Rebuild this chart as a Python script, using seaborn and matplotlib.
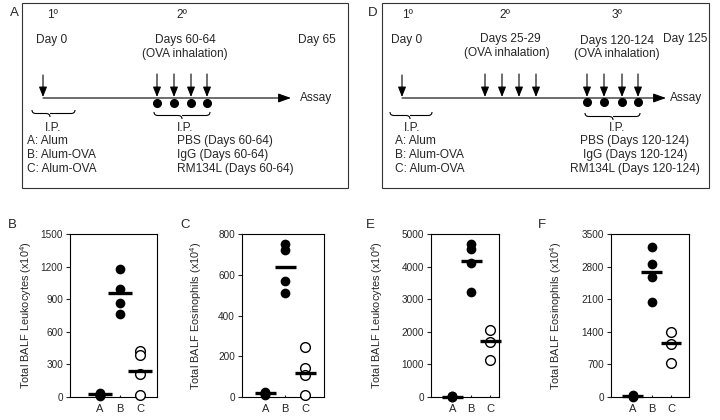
import numpy as np
import pandas as pd
import matplotlib
matplotlib.use("Agg")
import matplotlib.pyplot as plt
import seaborn as sns
from matplotlib.path import Path
from matplotlib.patches import PathPatch, Rectangle

# ---------------- data ----------------
groups = ["A", "B", "C"]

b_A = [8, 15, 22, 37]
b_B = [1177, 992, 862, 761]
b_C = [425, 385, 210, 15]
b_means = [28, 955, 240]

c_A = [10, 15, 20, 25]
c_B = [751, 723, 567, 509]
c_C = [246, 140, 107, 8]
c_means = [20, 636, 118]

e_A = [5, 15, 30, 45]
e_B = [4692, 4538, 4107, 3234]
e_C = [2053, 1694, 1150]
e_means = [5, 4179, 1715]

f_A = [10, 20, 30, 40]
f_B = [3220, 2860, 2587, 2048]
f_C = [1387, 1136, 740]
f_means = [15, 2681, 1150]

b_ticks = [0, 300, 600, 900, 1200, 1500]
c_ticks = [0, 200, 400, 600, 800]
e_ticks = [0, 1000, 2000, 3000, 4000, 5000]
f_ticks = [0, 700, 1400, 2100, 2800, 3500]

# ---------------- style ----------------
sns.set_theme(style="white")
plt.rcParams["font.family"] = ["Liberation Sans", "DejaVu Sans"]
plt.rcParams["mathtext.fontset"] = "custom"
plt.rcParams["mathtext.rm"] = "Liberation Sans"
plt.rcParams["mathtext.it"] = "Liberation Sans:italic"

W, H = 720, 420
fig = plt.figure(figsize=(7.2, 4.2), dpi=100)
fig.patch.set_facecolor("white")

# overlay axis in pixel coordinates for schematics
ov = fig.add_axes([0, 0, 1, 1])
ov.set_xlim(0, W)
ov.set_ylim(H, 0)
ov.axis("off")
ov.set_zorder(-1)

TXT = 8.6
LET = 9.5
LW = 0.8


def brace(ax, x0, x1, y, d, tip=None):
    if tip is None:
        tip = (x0 + x1) / 2
    r = 4
    verts = [(x0, y), (x0, y + d / 2), (x0 + r, y + d / 2),
             (tip - r, y + d / 2), (tip, y + d / 2), (tip, y + d),
             (tip, y + d / 2), (tip + r, y + d / 2),
             (x1 - r, y + d / 2), (x1, y + d / 2), (x1, y)]
    codes = [Path.MOVETO, Path.CURVE3, Path.CURVE3,
             Path.LINETO, Path.CURVE3, Path.CURVE3,
             Path.MOVETO, Path.LINETO,
             Path.LINETO, Path.CURVE3, Path.CURVE3]
    ax.add_patch(PathPatch(Path(verts, codes), fill=False, lw=LW, color="black"))


def down_arrow(ax, x, y0, y1):
    ax.annotate("", xy=(x, y1), xytext=(x, y0),
                arrowprops=dict(arrowstyle="-|>,head_length=0.55,head_width=0.22",
                                color="black", lw=LW, mutation_scale=11,
                                shrinkA=0, shrinkB=0))


def timeline(ax, x0, x1, y):
    ax.annotate("", xy=(x1, y), xytext=(x0, y),
                arrowprops=dict(arrowstyle="-|>,head_length=0.7,head_width=0.25",
                                color="black", lw=LW, mutation_scale=11,
                                shrinkA=0, shrinkB=0))


# ---- panel A schematic ----
ov.add_patch(Rectangle((22, 3), 326, 185, fill=False, lw=LW, ec="#333333"))
ov.text(14, 13, "A", fontsize=LET, ha="center", va="center")
ov.text(52, 15, "1º", fontsize=TXT, ha="center", va="center")
ov.text(182, 15, "2º", fontsize=TXT, ha="center", va="center")
ov.text(52, 40, "Day 0", fontsize=TXT, ha="center", va="center")
ov.text(185, 40, "Days 60-64", fontsize=TXT, ha="center", va="center")
ov.text(185, 54, "(OVA inhalation)", fontsize=TXT, ha="center", va="center")
ov.text(317, 40, "Day 65", fontsize=TXT, ha="center", va="center")
timeline(ov, 43, 291, 98)
ov.text(300, 98, "Assay", fontsize=TXT, ha="left", va="center")
down_arrow(ov, 43, 75, 97)
a_days = [157, 174, 191, 207]
for x in a_days:
    down_arrow(ov, x, 74, 97)
ov.plot(a_days, [103] * 4, "o", ms=5.5, color="black")
brace(ov, 32, 75, 110, 7, tip=50)
brace(ov, 154, 210, 112, 7, tip=182)
ov.text(53, 128, "I.P.", fontsize=TXT, ha="center", va="center")
ov.text(185, 128, "I.P.", fontsize=TXT, ha="center", va="center")
for i, s in enumerate(["A: Alum", "B: Alum-OVA", "C: Alum-OVA"]):
    ov.text(27, 141 + 14 * i, s, fontsize=TXT, ha="left", va="center")
for i, s in enumerate(["PBS (Days 60-64)", "IgG (Days 60-64)", "RM134L (Days 60-64)"]):
    ov.text(177, 141 + 14 * i, s, fontsize=TXT, ha="left", va="center")

# ---- panel D schematic ----
ov.add_patch(Rectangle((382, 3), 327, 185, fill=False, lw=LW, ec="#333333"))
ov.text(373, 13, "D", fontsize=LET, ha="center", va="center")
ov.text(407, 15, "1º", fontsize=TXT, ha="center", va="center")
ov.text(505, 15, "2º", fontsize=TXT, ha="center", va="center")
ov.text(617, 15, "3º", fontsize=TXT, ha="center", va="center")
ov.text(407, 40, "Day 0", fontsize=TXT, ha="center", va="center")
ov.text(510, 39, "Days 25-29", fontsize=TXT, ha="center", va="center")
ov.text(507, 53, "(OVA inhalation)", fontsize=TXT, ha="center", va="center")
ov.text(617, 41, "Days 120-124", fontsize=TXT, ha="center", va="center")
ov.text(617, 54, "(OVA inhalation)", fontsize=TXT, ha="center", va="center")
ov.text(707, 39, "Day 125", fontsize=TXT, ha="right", va="center")
timeline(ov, 402, 666, 98)
ov.text(670, 98, "Assay", fontsize=TXT, ha="left", va="center")
down_arrow(ov, 402, 75, 97)
d2_days = [485, 502, 519, 536]
d3_days = [587, 604, 622, 638]
for x in d2_days + d3_days:
    down_arrow(ov, x, 74, 97)
ov.plot(d3_days, [102] * 4, "o", ms=5.5, color="black")
brace(ov, 390, 432, 112, 7, tip=410)
brace(ov, 585, 640, 113, 7, tip=613)
ov.text(412, 128, "I.P.", fontsize=TXT, ha="center", va="center")
ov.text(617, 128, "I.P.", fontsize=TXT, ha="center", va="center")
for i, s in enumerate(["A: Alum", "B: Alum-OVA", "C: Alum-OVA"]):
    ov.text(395, 141 + 14 * i, s, fontsize=TXT, ha="left", va="center")
for i, s in enumerate(["PBS (Days 120-124)", "IgG (Days 120-124)", "RM134L (Days 120-124)"]):
    ov.text(635, 141 + 14 * i, s, fontsize=TXT, ha="center", va="center")


# ---------------- scatter panels ----------------
def make_df(a, b, c):
    rows = [("A", v, True) for v in a] + [("B", v, True) for v in b] + [("C", v, False) for v in c]
    return pd.DataFrame(rows, columns=["group", "value", "filled"])


panels = [
    ("B", make_df(b_A, b_B, b_C), b_means, b_ticks, "Total BALF Leukocytes (x10$^{4}$)",
     (70, 234, 157, 397), (-1.5, 2.85), 0.6, 12, 34),
    ("C", make_df(c_A, c_B, c_C), c_means, c_ticks, "Total BALF Eosinophils (x10$^{4}$)",
     (242, 234, 324, 397), (-1.17, 2.95), 0.53, 185, 204),
    ("E", make_df(e_A, e_B, e_C), e_means, e_ticks, "Total BALF Leukocytes (x10$^{4}$)",
     (431, 234, 499, 397), (-1.11, 2.45), 0.54, 370, 385),
    ("F", make_df(f_A, f_B, f_C), f_means, f_ticks, "Total BALF Eosinophils (x10$^{4}$)",
     (611, 234, 689, 397), (-1.12, 2.94), 0.54, 542, 564),
]

for letter, df, means, ticks, ylab, (x0, y0, x1, y1), xl, hw, lx, ylx in panels:
    ax = fig.add_axes([x0 / W, 1 - y1 / H, (x1 - x0) / W, (y1 - y0) / H])
    sns.stripplot(data=df[df.filled], x="group", y="value", order=groups,
                  jitter=False, color="black", size=7, linewidth=0,
                  clip_on=False, zorder=3, ax=ax)
    sns.stripplot(data=df[~df.filled], x="group", y="value", order=groups,
                  jitter=False, color="white", edgecolor="black", linewidth=1.0,
                  size=7, clip_on=False, zorder=3, ax=ax)
    for i, m in enumerate(means):
        ax.hlines(m, i - hw, i + hw, color="black", lw=2.4, zorder=4, clip_on=False)
    ax.set_xlim(*xl)
    ax.set_ylim(ticks[0], ticks[-1])
    ax.set_yticks(ticks)
    ax.set_yticklabels([str(t) for t in ticks])
    ax.set_xlabel("")
    ax.set_ylabel(ylab, fontsize=7.9, labelpad=0)
    ax.yaxis.set_label_coords((ylx - x0) / (x1 - x0), 0.5)
    for s in ax.spines.values():
        s.set_visible(True)
        s.set_color("black")
        s.set_linewidth(0.8)
    ax.tick_params(axis="y", direction="out", length=3, width=0.8, labelsize=7.2, pad=2, left=True)
    ax.tick_params(axis="x", direction="in", length=1.5, width=0.8, labelsize=8, pad=5, bottom=True)
    ax.set_facecolor("white")
    ov.text(lx, 225, letter, fontsize=LET, ha="center", va="center")

fig.savefig("out.png", dpi=100, facecolor="white")
